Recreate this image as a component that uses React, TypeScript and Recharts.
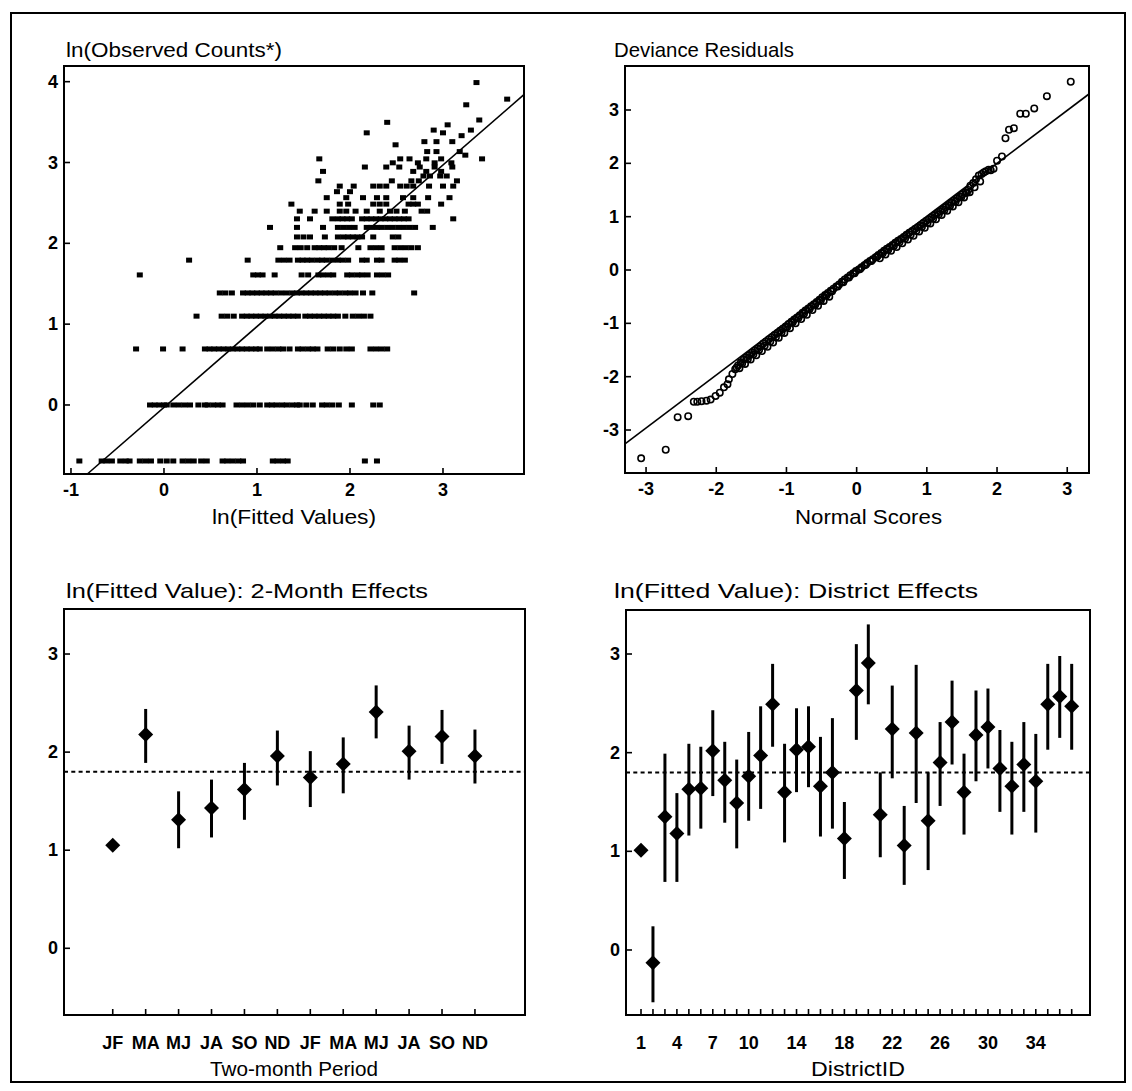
import React from 'react';
import { ScatterChart, Scatter, XAxis, YAxis, ReferenceLine, ErrorBar } from 'recharts';

const FONT = '"Liberation Sans", Arial, Helvetica, sans-serif';

// ---------- Panel 1: ln(observed counts*) vs ln(fitted values) ----------
const obsLevels = [-0.693, 0, 0.693, 1.099, 1.386, 1.609, 1.792, 1.946, 2.079, 2.197, 2.303, 2.398, 2.485, 2.565, 2.639, 2.708, 2.773, 2.833, 2.890, 2.944, 2.996, 3.045, 3.091, 3.135, 3.219, 3.258, 3.332, 3.367, 3.401, 3.466, 3.497, 3.526, 3.714, 3.784, 3.989];
const fittedRows = [
  [-0.91, -0.67, -0.62, -0.56, -0.47, -0.41, -0.37, -0.26, -0.20, -0.14, -0.04, 0.03, 0.10, 0.20, 0.26, 0.32, 0.40, 0.46, 0.63, 0.68, 0.74, 0.80, 0.85, 1.17, 1.22, 1.28, 1.33, 2.16, 2.29],
  [-0.15, -0.10, -0.05, 0.0, 0.03, 0.10, 0.16, 0.22, 0.28, 0.37, 0.44, 0.47, 0.53, 0.58, 0.63, 0.78, 0.84, 0.90, 0.96, 1.03, 1.11, 1.16, 1.21, 1.27, 1.32, 1.38, 1.43, 1.46, 1.53, 1.60, 1.70, 1.75, 1.81, 1.88, 2.02, 2.25, 2.32],
  [-0.30, -0.01, 0.20, 0.44, 0.49, 0.54, 0.59, 0.64, 0.69, 0.74, 0.79, 0.84, 0.89, 0.94, 0.99, 1.03, 1.11, 1.17, 1.23, 1.28, 1.35, 1.44, 1.49, 1.55, 1.60, 1.65, 1.76, 1.82, 1.89, 1.96, 2.02, 2.22, 2.28, 2.34, 2.40],
  [0.35, 0.62, 0.68, 0.75, 0.84, 0.89, 0.94, 0.99, 1.04, 1.09, 1.14, 1.19, 1.24, 1.29, 1.34, 1.39, 1.44, 1.52, 1.57, 1.62, 1.67, 1.72, 1.77, 1.82, 1.87, 1.95, 2.03, 2.09, 2.15, 2.22],
  [0.60, 0.66, 0.73, 0.85, 0.90, 0.95, 1.00, 1.05, 1.10, 1.15, 1.20, 1.26, 1.32, 1.38, 1.43, 1.48, 1.53, 1.58, 1.63, 1.68, 1.73, 1.78, 1.84, 1.89, 1.95, 2.00, 2.06, 2.14, 2.24, 2.69],
  [-0.26, 0.96, 1.01, 1.06, 1.19, 1.48, 1.55, 1.66, 1.71, 1.77, 1.82, 1.97, 2.02, 2.08, 2.13, 2.19, 2.29, 2.35, 2.41],
  [0.27, 0.90, 1.23, 1.29, 1.35, 1.44, 1.49, 1.54, 1.59, 1.65, 1.70, 1.75, 1.81, 1.87, 1.92, 1.98, 2.13, 2.18, 2.29, 2.34, 2.48, 2.53, 2.59],
  [1.25, 1.41, 1.47, 1.54, 1.62, 1.67, 1.72, 1.77, 1.83, 1.91, 2.09, 2.22, 2.28, 2.34, 2.48, 2.54, 2.60, 2.66, 2.73],
  [1.43, 1.50, 1.57, 1.73, 1.87, 1.93, 1.98, 2.03, 2.08, 2.13, 2.25, 2.46, 2.52],
  [1.14, 1.43, 1.71, 1.87, 1.93, 1.99, 2.05, 2.18, 2.23, 2.29, 2.34, 2.40, 2.46, 2.52, 2.58, 2.64, 2.70, 2.89],
  [1.43, 1.57, 1.81, 1.87, 1.92, 1.97, 2.02, 2.13, 2.18, 2.23, 2.28, 2.33, 2.38, 2.43, 2.48, 2.53, 2.58, 2.63, 3.11],
  [1.46, 1.62, 1.75, 1.89, 1.96, 2.06, 2.18, 2.32, 2.43, 2.50, 2.59, 2.77, 2.83],
  [1.37, 1.89, 1.98, 2.25, 2.32, 2.39, 2.63, 2.68, 2.73, 2.98],
  [1.75, 1.96, 2.14, 2.29, 2.39, 2.57, 2.68, 2.84, 3.07],
  [1.86, 2.00],
  [1.89, 2.04, 2.25, 2.32, 2.39, 2.54, 2.61, 2.68, 2.85, 3.00, 3.11],
  [1.66, 2.45, 2.66, 2.74, 3.15],
  [2.79, 2.86, 2.97, 3.04],
  [1.71, 2.68, 2.82, 2.98],
  [2.16, 2.39, 2.53, 2.75, 2.91, 3.10],
  [2.46, 2.73, 2.91, 3.09],
  [1.67, 2.54, 2.64, 2.82, 2.98, 3.42],
  [3.24],
  [2.83, 2.93, 3.18],
  [2.49],
  [2.80, 2.93, 3.10],
  [3.20],
  [2.18, 3.00],
  [2.90, 3.30],
  [3.05],
  [2.40],
  [3.39],
  [3.25],
  [3.69],
  [3.36],
];
const tlFitX = [-0.83, 3.87];
const tlFitY = [-0.86, 3.84];
const tlXTicks = [-1, 0, 1, 2, 3];
const tlYTicks = [0, 1, 2, 3, 4];

// ---------- Panel 2: deviance residuals vs normal scores ----------
const normalScores = [
  -3.07, -2.72, -2.55, -2.40, -2.32, -2.27, -2.21, -2.14, -2.08, -2.01, -1.95, -1.89, -1.84, -1.82, -1.77,
  -1.73, -1.69, -1.65, -1.61, -1.57, -1.53, -1.49, -1.45, -1.41, -1.37, -1.33, -1.29, -1.25, -1.21, -1.17,
  -1.13, -1.09, -1.05, -1.01, -0.97, -0.93, -0.89, -0.85, -0.81, -0.77, -0.73, -0.69, -0.65, -0.61, -0.57,
  -0.53, -0.49, -0.45, -0.41, -0.37, -0.33, -0.29, -0.25, -0.21, -0.17, -0.13, -0.09, -0.05, -0.01, 0.03,
  0.07, 0.11, 0.15, 0.19, 0.23, 0.27, 0.31, 0.35, 0.39, 0.43, 0.47, 0.51, 0.55, 0.59, 0.63,
  0.67, 0.71, 0.75, 0.79, 0.83, 0.87, 0.91, 0.95, 0.99, 1.03, 1.07, 1.11, 1.15, 1.19, 1.23,
  1.27, 1.31, 1.35, 1.39, 1.43, 1.47, 1.51, 1.55, 1.59, 1.62, 1.66, 1.70, 1.74, 1.78, 1.81,
  1.84, 1.88, 1.91, 1.95, 2.00, 2.07, 2.12, 2.17, 2.24, 2.33, 2.41, 2.53, 2.71, 3.05,
  -1.71, -1.63, -1.55, -1.47, -1.39, -1.31, -1.23, -1.15, -1.07, -0.99, -0.91, -0.83, -0.75, -0.67,
  -0.59, -0.51, -0.43, -0.35, -0.27, -0.19, -0.11, -0.03, 0.05, 0.13, 0.21, 0.29, 0.37, 0.45,
  0.53, 0.61, 0.69, 0.77, 0.85, 0.93, 1.01, 1.09, 1.17, 1.25, 1.33, 1.41, 1.49, 1.57,
  -1.67, -1.59, -1.51, -1.43, -1.35, -1.27, -1.19, -1.11, -1.03, -0.95, -0.87, -0.79, -0.71, -0.63,
  -0.55, -0.47, -0.39, 0.33, 0.41, 0.49, 0.57, 0.65, 0.73, 0.81, 0.89, 0.97, 1.05, 1.13,
  1.21, 1.29, 1.37, 1.45, 1.53, 1.61, 1.68, 1.76,
];
const devianceResiduals = [
  -3.53, -3.37, -2.76, -2.74, -2.47, -2.47, -2.46, -2.45, -2.43, -2.36, -2.30, -2.20, -2.14, -2.05, -1.95,
  -1.86, -1.79, -1.73, -1.68, -1.64, -1.60, -1.55, -1.51, -1.47, -1.43, -1.38, -1.34, -1.30, -1.26, -1.22,
  -1.18, -1.14, -1.10, -1.06, -1.01, -0.97, -0.93, -0.89, -0.85, -0.80, -0.76, -0.72, -0.68, -0.64, -0.60,
  -0.56, -0.51, -0.47, -0.43, -0.39, -0.35, -0.31, -0.27, -0.22, -0.18, -0.14, -0.10, -0.06, -0.02, 0.01,
  0.05, 0.09, 0.13, 0.17, 0.20, 0.24, 0.28, 0.32, 0.36, 0.40, 0.43, 0.47, 0.51, 0.55, 0.58,
  0.62, 0.66, 0.70, 0.73, 0.77, 0.80, 0.84, 0.88, 0.92, 0.95, 0.99, 1.03, 1.07, 1.10, 1.14,
  1.18, 1.22, 1.26, 1.30, 1.34, 1.38, 1.42, 1.46, 1.50, 1.58, 1.63, 1.70, 1.77, 1.80, 1.83,
  1.85, 1.88, 1.87, 1.90, 2.05, 2.13, 2.47, 2.63, 2.66, 2.93, 2.93, 3.03, 3.26, 3.53,
  -1.83, -1.75, -1.67, -1.58, -1.50, -1.42, -1.34, -1.26, -1.17, -1.07, -0.98, -0.90, -0.82, -0.73,
  -0.65, -0.57, -0.48, -0.40, -0.31, -0.23, -0.14, -0.06, 0.02, 0.10, 0.17, 0.25, 0.31, 0.38,
  0.45, 0.52, 0.59, 0.66, 0.73, 0.81, 0.88, 0.96, 1.04, 1.12, 1.20, 1.28, 1.37, 1.45,
  -1.84, -1.76, -1.68, -1.60, -1.52, -1.44, -1.36, -1.27, -1.18, -1.09, -1.00, -0.92, -0.84, -0.75,
  -0.67, -0.58, -0.50, 0.22, 0.29, 0.36, 0.43, 0.50, 0.57, 0.64, 0.72, 0.79, 0.87, 0.95,
  1.03, 1.11, 1.19, 1.27, 1.36, 1.46, 1.55, 1.66,
];
const qqFitX = [-3.30, 3.31];
const qqFitY = [-3.26, 3.30];
const qqXTicks = [-3, -2, -1, 0, 1, 2, 3];
const qqYTicks = [-3, -2, -1, 0, 1, 2, 3];

// ---------- Panel 3: 2-month effects ----------
const monthLabels = ['JF', 'MA', 'MJ', 'JA', 'SO', 'ND', 'JF', 'MA', 'MJ', 'JA', 'SO', 'ND'];
const monthEst = [1.05, 2.18, 1.31, 1.43, 1.62, 1.96, 1.74, 1.88, 2.41, 2.01, 2.16, 1.96];
const monthLo = [1.05, 1.89, 1.02, 1.13, 1.31, 1.66, 1.44, 1.58, 2.14, 1.72, 1.88, 1.68];
const monthHi = [1.05, 2.44, 1.60, 1.72, 1.89, 2.22, 2.01, 2.15, 2.68, 2.27, 2.43, 2.23];

// ---------- Panel 4: district effects ----------
const districtEst = [1.01, -0.13, 1.35, 1.18, 1.63, 1.64, 2.02, 1.72, 1.49, 1.76, 1.97, 2.49, 1.60, 2.03, 2.06, 1.66, 1.80, 1.13, 2.63, 2.91, 1.37, 2.24, 1.06, 2.20, 1.31, 1.90, 2.31, 1.60, 2.18, 2.26, 1.84, 1.66, 1.88, 1.71, 2.49, 2.57, 2.47];
const districtLo = [1.01, -0.53, 0.69, 0.69, 1.16, 1.23, 1.56, 1.29, 1.03, 1.31, 1.43, 2.06, 1.09, 1.60, 1.65, 1.15, 1.23, 0.72, 2.13, 2.49, 0.94, 1.74, 0.66, 1.49, 0.81, 1.46, 1.88, 1.17, 1.71, 1.84, 1.40, 1.17, 1.40, 1.19, 2.03, 2.15, 2.03];
const districtHi = [1.01, 0.24, 1.99, 1.59, 2.09, 2.06, 2.43, 2.11, 1.93, 2.21, 2.47, 2.90, 2.09, 2.45, 2.47, 2.16, 2.35, 1.50, 3.10, 3.30, 1.80, 2.68, 1.46, 2.89, 1.80, 2.31, 2.73, 1.99, 2.63, 2.65, 2.23, 2.11, 2.31, 2.19, 2.90, 2.98, 2.90];
const districtTickLabels = [1, 4, 7, 10, 14, 18, 22, 26, 30, 34];
const effectYTicks = [0, 1, 2, 3];
const overallMean = 1.8;

// ---------- derived tables ----------
const tlPoints = obsLevels.flatMap((lv, i) => fittedRows[i].map((fx) => ({ x: fx, y: lv })));
const qqPoints = normalScores.map((x, i) => ({ x, y: devianceResiduals[i] }));
const monthPoints = monthEst.map((v, i) => ({ x: i + 1, y: v, err: [v - monthLo[i], monthHi[i] - v] }));
const districtPoints = districtEst.map((v, i) => ({ x: i + 1, y: v, err: [v - districtLo[i], districtHi[i] - v] }));
const monthTicks = monthLabels.map((_, i) => i + 1);
const districtTicks = districtEst.map((_, i) => i + 1);

// ---------- shapes ----------
const Square = (p: any) => <rect x={p.cx - 3} y={p.cy - 2.5} width={6} height={5} fill="#000" />;
const Ring = (p: any) => <circle cx={p.cx} cy={p.cy} r={3.2} fill="none" stroke="#000" strokeWidth={1.6} />;
const Diamond = (p: any) => (
  <polygon points={`${p.cx},${p.cy - 7.5} ${p.cx + 7.5},${p.cy} ${p.cx},${p.cy + 7.5} ${p.cx - 7.5},${p.cy}`} fill="#000" />
);

const tickText = { fontFamily: FONT, fontSize: 18, fontWeight: 'bold' as const, fill: '#000' };

const makeYTick = (gap: number) => (props: any) => {
  const { x, y, payload } = props;
  return (
    <g>
      <line x1={x} x2={x + 6} y1={y} y2={y} stroke="#000" strokeWidth={1.6} />
      <text x={x - gap} y={y} textAnchor="end" dominantBaseline="central" {...tickText}>
        {payload.value}
      </text>
    </g>
  );
};

const makeXTick = (offset: number, label: (v: number) => string | null) => (props: any) => {
  const { x, y, payload } = props;
  const t = label(payload.value);
  return (
    <g>
      <line x1={x} x2={x} y1={y} y2={y - 6} stroke="#000" strokeWidth={1.6} />
      {t !== null && (
        <text x={x} y={y + offset} textAnchor="middle" dominantBaseline="central" {...tickText}>
          {t}
        </text>
      )}
    </g>
  );
};

type PanelProps = {
  left: number; top: number; w: number; h: number;
  xDomain: [number, number]; yDomain: [number, number];
  xTicks: number[]; yTicks: number[];
  xTick: any; yTick: any;
  children: React.ReactNode;
};

function Panel({ left, top, w, h, xDomain, yDomain, xTicks, yTicks, xTick, yTick, children }: PanelProps) {
  return (
    <>
      <div style={{ position: 'absolute', left: left - 60, top: top - 10 }}>
        <ScatterChart width={w + 70} height={h + 60} margin={{ top: 10, right: 10, bottom: 0, left: 0 }}>
          <XAxis
            type="number" dataKey="x" domain={xDomain} ticks={xTicks} allowDataOverflow
            height={50} axisLine={false} tickLine={false} tickSize={0} tickMargin={0}
            interval={0} tick={xTick}
          />
          <YAxis
            type="number" dataKey="y" domain={yDomain} ticks={yTicks} allowDataOverflow
            width={60} axisLine={false} tickLine={false} tickSize={0} tickMargin={0}
            interval={0} tick={yTick}
          />
          {children}
        </ScatterChart>
      </div>
      <div
        style={{
          position: 'absolute', left: left - 1, top: top - 1, width: w + 2, height: h + 2,
          border: '2px solid #000', boxSizing: 'border-box', pointerEvents: 'none',
        }}
      />
    </>
  );
}

const titleStyle = { fontFamily: FONT, fontSize: 21, fill: '#000', lengthAdjust: 'spacingAndGlyphs' as const };

export default function App() {
  return (
    <div style={{ position: 'absolute', left: 0, top: 0, width: 1132, height: 1091, background: '#fff', overflow: 'hidden' }}>
      <div
        style={{
          position: 'absolute', left: 10, top: 12, width: 1116, height: 1071,
          border: '2px solid #000', boxSizing: 'border-box',
        }}
      />
      <svg width={1132} height={1091} style={{ position: 'absolute', left: 0, top: 0 }}>
        <text x={66} y={49} dominantBaseline="central" textLength={216} {...titleStyle}>ln(Observed Counts*)</text>
        <text x={614} y={49} dominantBaseline="central" textLength={180} {...titleStyle}>Deviance Residuals</text>
        <text x={212} y={516} dominantBaseline="central" textLength={164} {...titleStyle}>ln(Fitted Values)</text>
        <text x={795} y={516} dominantBaseline="central" textLength={147} {...titleStyle}>Normal Scores</text>
        <text x={66} y={590} dominantBaseline="central" textLength={362} {...titleStyle}>ln(Fitted Value): 2-Month Effects</text>
        <text x={614} y={590} dominantBaseline="central" textLength={364} {...titleStyle}>ln(Fitted Value): District Effects</text>
        <text x={210} y={1068} dominantBaseline="central" textLength={168} {...titleStyle}>Two-month Period</text>
        <text x={811} y={1068} dominantBaseline="central" textLength={94} {...titleStyle}>DistrictID</text>
      </svg>

      <Panel
        left={64} top={66} w={460} h={408}
        xDomain={[-1.075, 3.871]} yDomain={[-0.854, 4.194]}
        xTicks={tlXTicks} yTicks={tlYTicks}
        xTick={makeXTick(16, (v) => String(v))} yTick={makeYTick(6)}
      >
        <ReferenceLine
          segment={[{ x: tlFitX[0], y: tlFitY[0] }, { x: tlFitX[1], y: tlFitY[1] }]}
          stroke="#000" strokeWidth={1.6} ifOverflow="visible"
        />
        <Scatter data={tlPoints} shape={Square} isAnimationActive={false} />
      </Panel>

      <Panel
        left={625} top={66} w={464} h={407}
        xDomain={[-3.30, 3.31]} yDomain={[-3.806, 3.825]}
        xTicks={qqXTicks} yTicks={qqYTicks}
        xTick={makeXTick(16, (v) => String(v))} yTick={makeYTick(6)}
      >
        <ReferenceLine
          segment={[{ x: qqFitX[0], y: qqFitY[0] }, { x: qqFitX[1], y: qqFitY[1] }]}
          stroke="#000" strokeWidth={1.6} ifOverflow="visible"
        />
        <Scatter data={qqPoints} shape={Ring} isAnimationActive={false} />
      </Panel>

      <Panel
        left={64} top={609} w={461} h={406}
        xDomain={[-0.48, 13.52]} yDomain={[-0.68, 3.459]}
        xTicks={monthTicks} yTicks={effectYTicks}
        xTick={makeXTick(28, (v) => monthLabels[v - 1] ?? null)} yTick={makeYTick(6)}
      >
        <ReferenceLine y={overallMean} stroke="#000" strokeWidth={2} strokeDasharray="4 3.3" />
        <Scatter data={monthPoints} shape={Diamond} isAnimationActive={false}>
          <ErrorBar dataKey="err" direction="y" width={0} strokeWidth={3} stroke="#000" isAnimationActive={false} />
        </Scatter>
      </Panel>

      <Panel
        left={626} top={610} w={464} h={405}
        xDomain={[-0.254, 38.53]} yDomain={[-0.659, 3.446]}
        xTicks={districtTicks} yTicks={effectYTicks}
        xTick={makeXTick(28, (v) => (districtTickLabels.includes(v) ? String(v) : null))} yTick={makeYTick(6)}
      >
        <ReferenceLine y={overallMean} stroke="#000" strokeWidth={2} strokeDasharray="4 3.3" />
        <Scatter data={districtPoints} shape={Diamond} isAnimationActive={false}>
          <ErrorBar dataKey="err" direction="y" width={0} strokeWidth={3} stroke="#000" isAnimationActive={false} />
        </Scatter>
      </Panel>
    </div>
  );
}
